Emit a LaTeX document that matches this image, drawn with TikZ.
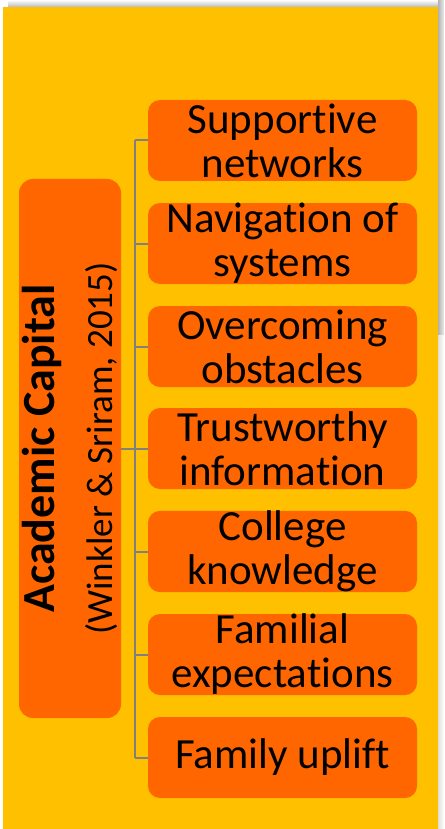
\documentclass[tikz,border=0pt]{standalone}
\usepackage{fontspec}
\setmainfont[Ligatures={NoCommon}]{Carlito}
\definecolor{bgy}{HTML}{FFC000}
\definecolor{box}{HTML}{FF6600}
\definecolor{conncol}{HTML}{808080}
\tikzset{
  itembox/.style={fill=box, rounded corners=12pt, minimum width=269pt, minimum height=81pt, inner sep=0pt, align=center, font=\fontsize{43}{44}\selectfont, text=black},
  conn/.style={draw=conncol, line width=2pt},
}
\begin{document}
\begin{tikzpicture}[x=1pt,y=-1pt]
\useasboundingbox (0,0) rectangle (444,829);
\fill[white] (0,0) rectangle (444,829);
% shadow
\shade[top color=white, bottom color=gray!55] (8,0) rectangle (440,7);
\shade[left color=gray!60, right color=gray!15] (438,0) rectangle (444,335);
\shade[left color=gray!25, right color=white] (438,335) rectangle (444,829);
\fill[bgy] (3,7) rectangle (438,829);
% left node
\node[fill=box, rounded corners=14pt, minimum width=102pt, minimum height=539pt, inner sep=0pt] (L) at (70,448.5) {};
\node[rotate=90, font=\fontsize{46}{50}\selectfont\bfseries] (Lt) at (42,448.5) {Academic Capital};
\node[rotate=90, font=\fontsize{37}{40}\selectfont] (Ls) at (102,448.5) {(Winkler \& Sriram, 2015)};
% items
\node[itembox] (b1) at (282.5,140.5) {Supportive\\networks};
\node[itembox] (b2) at (282.5,243.5) {Navigation of\\systems};
\node[itembox] (b3) at (282.5,346.5) {Overcoming\\obstacles};
\node[itembox] (b4) at (282.5,448.5) {Trustworthy\\information};
\node[itembox] (b5) at (282.5,551.5) {College\\knowledge};
\node[itembox] (b6) at (282.5,654.5) {Familial\\expectations};
\node[itembox] (b7) at (282.5,757.5) {Family uplift};
\coordinate (spine) at (135,448.5);
% connectors
\draw[conn] (spine |- b1.west) -- (spine |- b7.west);
\draw[conn] (L.east) -- (spine |- L.east);
\foreach \b in {b1,b2,b3,b4,b5,b6,b7}{
  \draw[conn] (spine |- \b.west) -- (\b.west);
}
\end{tikzpicture}
\end{document}
